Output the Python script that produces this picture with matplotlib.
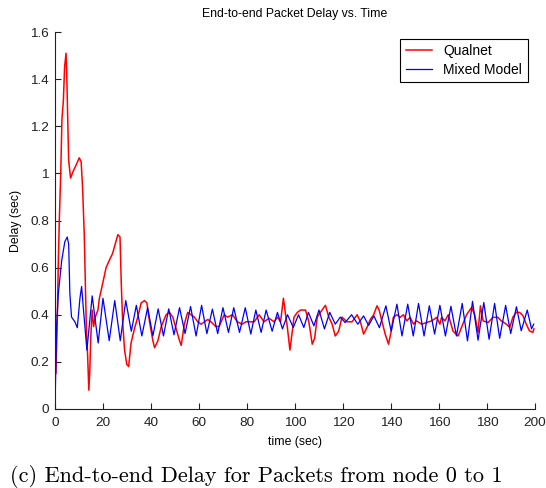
import numpy as np
import matplotlib
matplotlib.use("Agg")
import matplotlib.pyplot as plt
from matplotlib.ticker import FormatStrFormatter

# Qualnet 仿真结果 (时间, 延迟)
qualnet_t = [0.0, 0.4, 1.0, 1.4, 1.8, 2.4, 2.9, 3.5, 4.0, 4.6, 4.9, 5.3, 5.7, 6.5, 7.6, 9.0,
             10.1, 10.9, 11.5, 12.2, 12.7, 13.1, 13.6, 14.1, 14.5, 14.9, 15.5, 16.1, 16.8,
             17.9, 18.5, 19.6, 21.3, 22.6, 24.0, 25.1, 26.2, 27.1, 27.6, 28.2, 29.0, 29.9,
             30.7, 31.7, 33.1, 34.5, 35.9, 37.3, 38.3, 39.4, 40.8, 41.5, 42.9, 44.3, 46.3,
             47.7, 49.1, 50.5, 51.9, 52.6, 53.9, 55.3, 56.7, 58.1, 59.5, 60.9, 62.3, 63.7,
             65.0, 67.0, 68.4, 70.5, 71.9, 74.0, 76.0, 78.0, 79.5, 80.9, 83.0, 85.1, 87.1,
             89.2, 91.3, 92.7, 94.0, 95.2, 96.1, 96.8, 97.9, 98.9, 99.6, 101.0, 102.4,
             104.4, 105.8, 107.2, 108.2, 109.3, 110.6, 112.7, 114.1, 115.5, 116.8, 118.2,
             119.6, 121.7, 123.8, 125.9, 127.3, 128.6, 130.0, 131.4, 132.8, 134.2, 135.1,
             136.2, 137.6, 139.0, 140.1, 141.0, 142.5, 143.8, 145.2, 146.6, 148.0, 149.4,
             150.7, 152.8, 154.9, 157.0, 159.1, 160.4, 161.1, 162.5, 163.9, 165.9, 168.0,
             169.4, 171.5, 173.6, 174.9, 176.3, 177.3, 178.4, 180.5, 182.5, 184.6, 186.0,
             188.1, 189.5, 190.8, 192.2, 193.6, 195.0, 196.4, 197.7, 199.1, 199.6]
qualnet_delay = [0.37, 0.15, 0.40, 0.63, 0.80, 1.00, 1.23, 1.31, 1.45, 1.51, 1.42, 1.23, 1.055,
                 0.98, 1.01, 1.04, 1.066, 1.05, 0.94, 0.74, 0.52, 0.33, 0.23, 0.08, 0.16, 0.30,
                 0.42, 0.35, 0.39, 0.42, 0.47, 0.52, 0.60, 0.63, 0.66, 0.70, 0.74, 0.73, 0.54,
                 0.37, 0.25, 0.19, 0.18, 0.28, 0.34, 0.39, 0.45, 0.46, 0.45, 0.37, 0.29, 0.26,
                 0.29, 0.35, 0.40, 0.41, 0.39, 0.34, 0.29, 0.27, 0.36, 0.41, 0.40, 0.39, 0.37,
                 0.36, 0.37, 0.38, 0.37, 0.35, 0.35, 0.40, 0.39, 0.40, 0.37, 0.36, 0.37, 0.37,
                 0.37, 0.40, 0.37, 0.385, 0.37, 0.39, 0.37, 0.47, 0.40, 0.35, 0.25, 0.33, 0.39,
                 0.41, 0.42, 0.42, 0.37, 0.275, 0.30, 0.39, 0.41, 0.44, 0.39, 0.36, 0.31, 0.33,
                 0.39, 0.37, 0.37, 0.40, 0.37, 0.318, 0.346, 0.38, 0.40, 0.438, 0.42, 0.374,
                 0.318, 0.275, 0.33, 0.389, 0.40, 0.389, 0.40, 0.374, 0.389, 0.36, 0.374, 0.36,
                 0.367, 0.374, 0.389, 0.36, 0.389, 0.374, 0.40, 0.33, 0.31, 0.346, 0.40, 0.431,
                 0.40, 0.325, 0.438, 0.374, 0.367, 0.389, 0.389, 0.374, 0.36, 0.346, 0.389,
                 0.41, 0.41, 0.396, 0.36, 0.332, 0.325, 0.34]

# 混合模型结果 (时间, 延迟)
mixed_t = [0.0, 0.7, 1.4, 2.8, 4.1, 5.1, 5.7, 6.2, 6.9, 8.3, 9.3, 10.4, 11.1, 11.8, 13.3,
           15.5, 18.0, 20.0, 22.6, 24.9, 27.2, 29.5, 31.8, 33.9, 36.2, 38.6, 40.8, 43.0,
           45.2, 47.4, 49.6, 51.9, 54.2, 56.5, 58.8, 61.1, 63.3, 65.6, 67.8, 70.0, 72.3,
           74.5, 76.9, 79.3, 81.6, 83.7, 85.9, 88.0, 90.5, 92.7, 94.8, 96.9, 99.3, 101.5,
           103.7, 105.6, 107.9, 110.0, 112.3, 114.5, 116.8, 118.9, 120.9, 123.6, 126.2,
           128.6, 130.7, 132.9, 135.2, 137.9, 140.1, 142.5, 144.6, 147.0, 149.3, 151.5,
           153.8, 156.0, 158.2, 160.4, 162.7, 165.0, 167.3, 169.7, 171.9, 174.0, 176.3,
           178.7, 180.9, 183.2, 185.3, 187.8, 189.9, 192.3, 194.3, 196.8, 198.6, 199.5]
mixed_delay = [0.0, 0.36, 0.49, 0.63, 0.71, 0.73, 0.70, 0.49, 0.39, 0.37, 0.345, 0.47, 0.52,
               0.43, 0.25, 0.48, 0.28, 0.47, 0.29, 0.46, 0.29, 0.46, 0.33, 0.44, 0.31, 0.43,
               0.31, 0.425, 0.31, 0.425, 0.315, 0.43, 0.32, 0.435, 0.31, 0.44, 0.32, 0.424,
               0.32, 0.43, 0.325, 0.43, 0.325, 0.43, 0.318, 0.42, 0.325, 0.42, 0.33, 0.41,
               0.34, 0.40, 0.346, 0.40, 0.346, 0.41, 0.353, 0.42, 0.34, 0.41, 0.36, 0.39,
               0.367, 0.40, 0.36, 0.395, 0.355, 0.395, 0.345, 0.438, 0.33, 0.445, 0.31, 0.445,
               0.31, 0.448, 0.31, 0.438, 0.318, 0.44, 0.31, 0.436, 0.31, 0.448, 0.289, 0.457,
               0.292, 0.452, 0.296, 0.448, 0.30, 0.44, 0.32, 0.434, 0.332, 0.42, 0.34, 0.36]

y_ticks = [0, 0.2, 0.4, 0.6, 0.8, 1.0, 1.2, 1.4, 1.6]
x_ticks = [0, 20, 40, 60, 80, 100, 120, 140, 160, 180, 200]

plt.rcParams['font.family'] = ['Liberation Sans', 'DejaVu Sans']

fig = plt.figure(figsize=(5.46, 4.88), dpi=100)
ax = fig.add_axes([0.1007, 0.1619, 0.879, 0.7725])

ax.plot(qualnet_t, qualnet_delay, color='#ff0000', lw=1.1, label='Qualnet',
        solid_joinstyle='round')
ax.plot(mixed_t, mixed_delay, color='#0000ff', lw=0.9, label='Mixed Model',
        solid_joinstyle='round')

ax.set_xlim(0, 200)
ax.set_ylim(0, 1.6)
ax.set_xticks(x_ticks)
ax.set_yticks(y_ticks)
ax.yaxis.set_major_formatter(FormatStrFormatter('%g'))
ax.tick_params(direction='in', length=4, width=0.8, labelsize=9.7, colors='#222222')
ax.tick_params(axis='x', pad=5.5)
ax.tick_params(axis='y', pad=4.3)

# 只保留左边和下边的坐标轴
ax.spines['top'].set_visible(False)
ax.spines['right'].set_visible(False)
for s in ['left', 'bottom']:
    ax.spines[s].set_linewidth(0.8)
    ax.spines[s].set_color('#222222')

ax.set_title('End-to-end Packet Delay vs. Time', fontsize=8.8, pad=11)
ax.set_xlabel('time (sec)', fontsize=8.8, labelpad=5)
ax.set_ylabel('Delay (sec)', fontsize=8.8, labelpad=6)

leg = ax.legend(loc='upper right', bbox_to_anchor=(0.985, 0.982), fontsize=10,
                fancybox=False, framealpha=1, edgecolor='black', handlelength=1.9,
                borderpad=0.4, labelspacing=0.3, handletextpad=0.8, borderaxespad=0)
leg.get_frame().set_linewidth(0.8)

# 图注
fig.text(0.019, 0.013, '(c) End-to-end Delay for Packets from node 0 to 1',
         family='cmr10', fontsize=16, ha='left', va='baseline')

fig.savefig('out.png', dpi=100)
